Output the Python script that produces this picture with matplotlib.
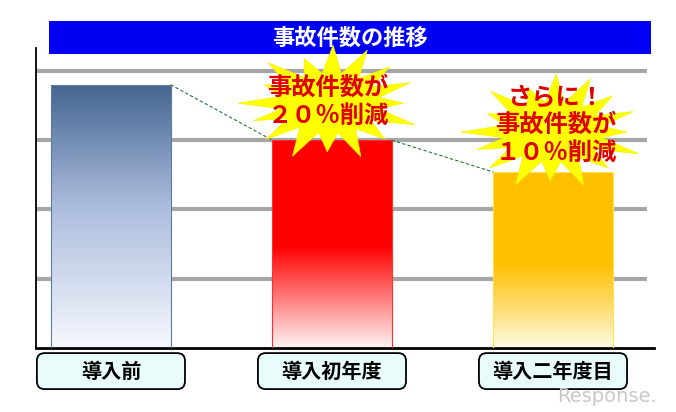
import numpy as np
import matplotlib
matplotlib.use('Agg')
import matplotlib.pyplot as plt
from matplotlib.patches import Rectangle, FancyBboxPatch, Polygon
from matplotlib.colors import LinearSegmentedColormap
from matplotlib.transforms import IdentityTransform, blended_transform_factory

plt.rcParams['font.family'] = ['Noto Sans CJK JP', 'DejaVu Sans']

# data
categories = ['導入前', '導入初年度', '導入二年度目']
values = [3.8, 3.0, 2.54]
title = '事故件数の推移'
callouts = [None, '事故件数が\n２０％削減', 'さらに！\n事故件数が\n１０％削減']
grid_levels = [1, 2, 3, 4]

# bar gradients, bottom -> top
grads = [[(0, '#f6f8fd'), (0.55, '#a9bbdc'), (1, '#44648f')],
         [(0, '#fff4f4'), (0.2, '#ff9090'), (0.49, '#ff0000'), (1, '#ff0000')],
         [(0, '#fffbe6'), (0.2, '#ffe080'), (0.48, '#ffc000'), (1, '#ffc000')]]
edges = ['#5b7ba6', '#ff3030', '#ffe34d']

W, H = 676, 412
fig = plt.figure(figsize=(W / 100, H / 100), dpi=100)
ax = fig.add_axes([36 / W, 1 - 348 / H, 618 / W, 300 / H])
XL, YL = (-0.339, 2.457), (0, 4.33)
ax.set_xticks([])
ax.set_yticks([])
for s in ['top', 'right']:
    ax.spines[s].set_visible(False)
ax.spines['left'].set_linewidth(1.3)
ax.spines['bottom'].set_linewidth(2)
ax.hlines(grid_levels, XL[0], XL[1] - 0.032, color='#a6a6a6', linewidth=3, zorder=1)

x = np.arange(len(categories))
bw = 0.54
bars = ax.bar(x, values, width=bw, color='none', edgecolor='none', zorder=2)

for b, stops, ec in zip(bars, grads, edges):
    cmap = LinearSegmentedColormap.from_list('g', stops)
    grad = np.linspace(0, 1, 256).reshape(-1, 1)
    bx, by, bwid, bh = b.get_x(), b.get_y(), b.get_width(), b.get_height()
    im = ax.imshow(grad, cmap=cmap, origin='lower', aspect='auto',
                   extent=[bx, bx + bwid, by, by + bh], zorder=2)
    im.set_clip_path(b)
    ax.add_patch(Rectangle((bx, by), bwid, bh, fill=False, edgecolor=ec,
                           linewidth=0.8, zorder=3))
ax.set_xlim(*XL)
ax.set_ylim(*YL)

# dashed connectors between bar tops
for i in range(len(values) - 1):
    ax.plot([x[i] + bw / 2, x[i + 1] - bw / 2], [values[i], values[i + 1]],
            linestyle=(0, (3, 2)), color='#2f6e3a', linewidth=0.8, zorder=4)

# category boxes under the axis
trans = blended_transform_factory(ax.transData, ax.transAxes)
for xi, lab in zip(x, categories):
    box = FancyBboxPatch((xi - 0.335, -0.137), 0.67, 0.12,
                         boxstyle='round,pad=0,rounding_size=0.035',
                         transform=trans, facecolor='#e8fcfc', edgecolor='black',
                         linewidth=1.3, clip_on=False, mutation_aspect=221 / 300)
    ax.add_patch(box)
    ax.text(xi, -0.077, lab, transform=trans, ha='center', va='center',
            fontsize=14.5, fontweight='bold', color='black')

# title bar
fig.patches.append(Rectangle((49 / W, 1 - 54 / H), 602 / W, 33 / H,
                             transform=fig.transFigure, facecolor='#0000f5',
                             edgecolor='none', zorder=1))
fig.text(350 / W, 1 - 38 / H, title, ha='center', va='center', color='white',
         fontsize=16, fontweight='bold', zorder=2)

# starburst callouts
spikes_r = [1.0, 0.82, 0.97, 0.78, 1.0, 0.88, 0.93, 1.0, 0.84, 0.98, 0.86, 1.0, 0.8, 0.94, 0.9, 1.0]
spikes_a = [88, 110, 134, 156, 180, 200, 222, 246, 268, 290, 314, 338, 0, 22, 44, 66]
star_off = [None, (-2, -37), (0, -40)]
text_off = [None, (-4, -38), (3, -47)]
fig.canvas.draw()
for xi, v, txt, so, to in zip(x, values, callouts, star_off, text_off):
    if txt is None:
        continue
    px, py = ax.transData.transform((xi, v))
    cx, cy = px + so[0], py - so[1]
    pts = []
    for r, a in zip(spikes_r, spikes_a):
        t = np.deg2rad(a)
        pts.append((cx + 92 * r * np.cos(t), cy + 58 * r * np.sin(t)))
        t2 = np.deg2rad(a + 11)
        pts.append((cx + 50 * np.cos(t2), cy + 30 * np.sin(t2)))
    star = Polygon(pts, closed=True, transform=IdentityTransform(),
                   facecolor='#ffff00', edgecolor='#f2f200', linewidth=0.5, zorder=5)
    fig.patches.append(star)
    star.set_figure(fig)
    fig.text((px + to[0]) / W, (py - to[1]) / H, txt, ha='center', va='center',
             color='#e00000', fontsize=17.5, fontweight='bold', linespacing=1.2, zorder=6)

fig.text(607 / W, 1 - 396 / H, 'Response.', ha='center', va='center',
         color='#c8c8c8', fontsize=14, family='DejaVu Sans', zorder=6)

fig.savefig('out.png', dpi=100)
